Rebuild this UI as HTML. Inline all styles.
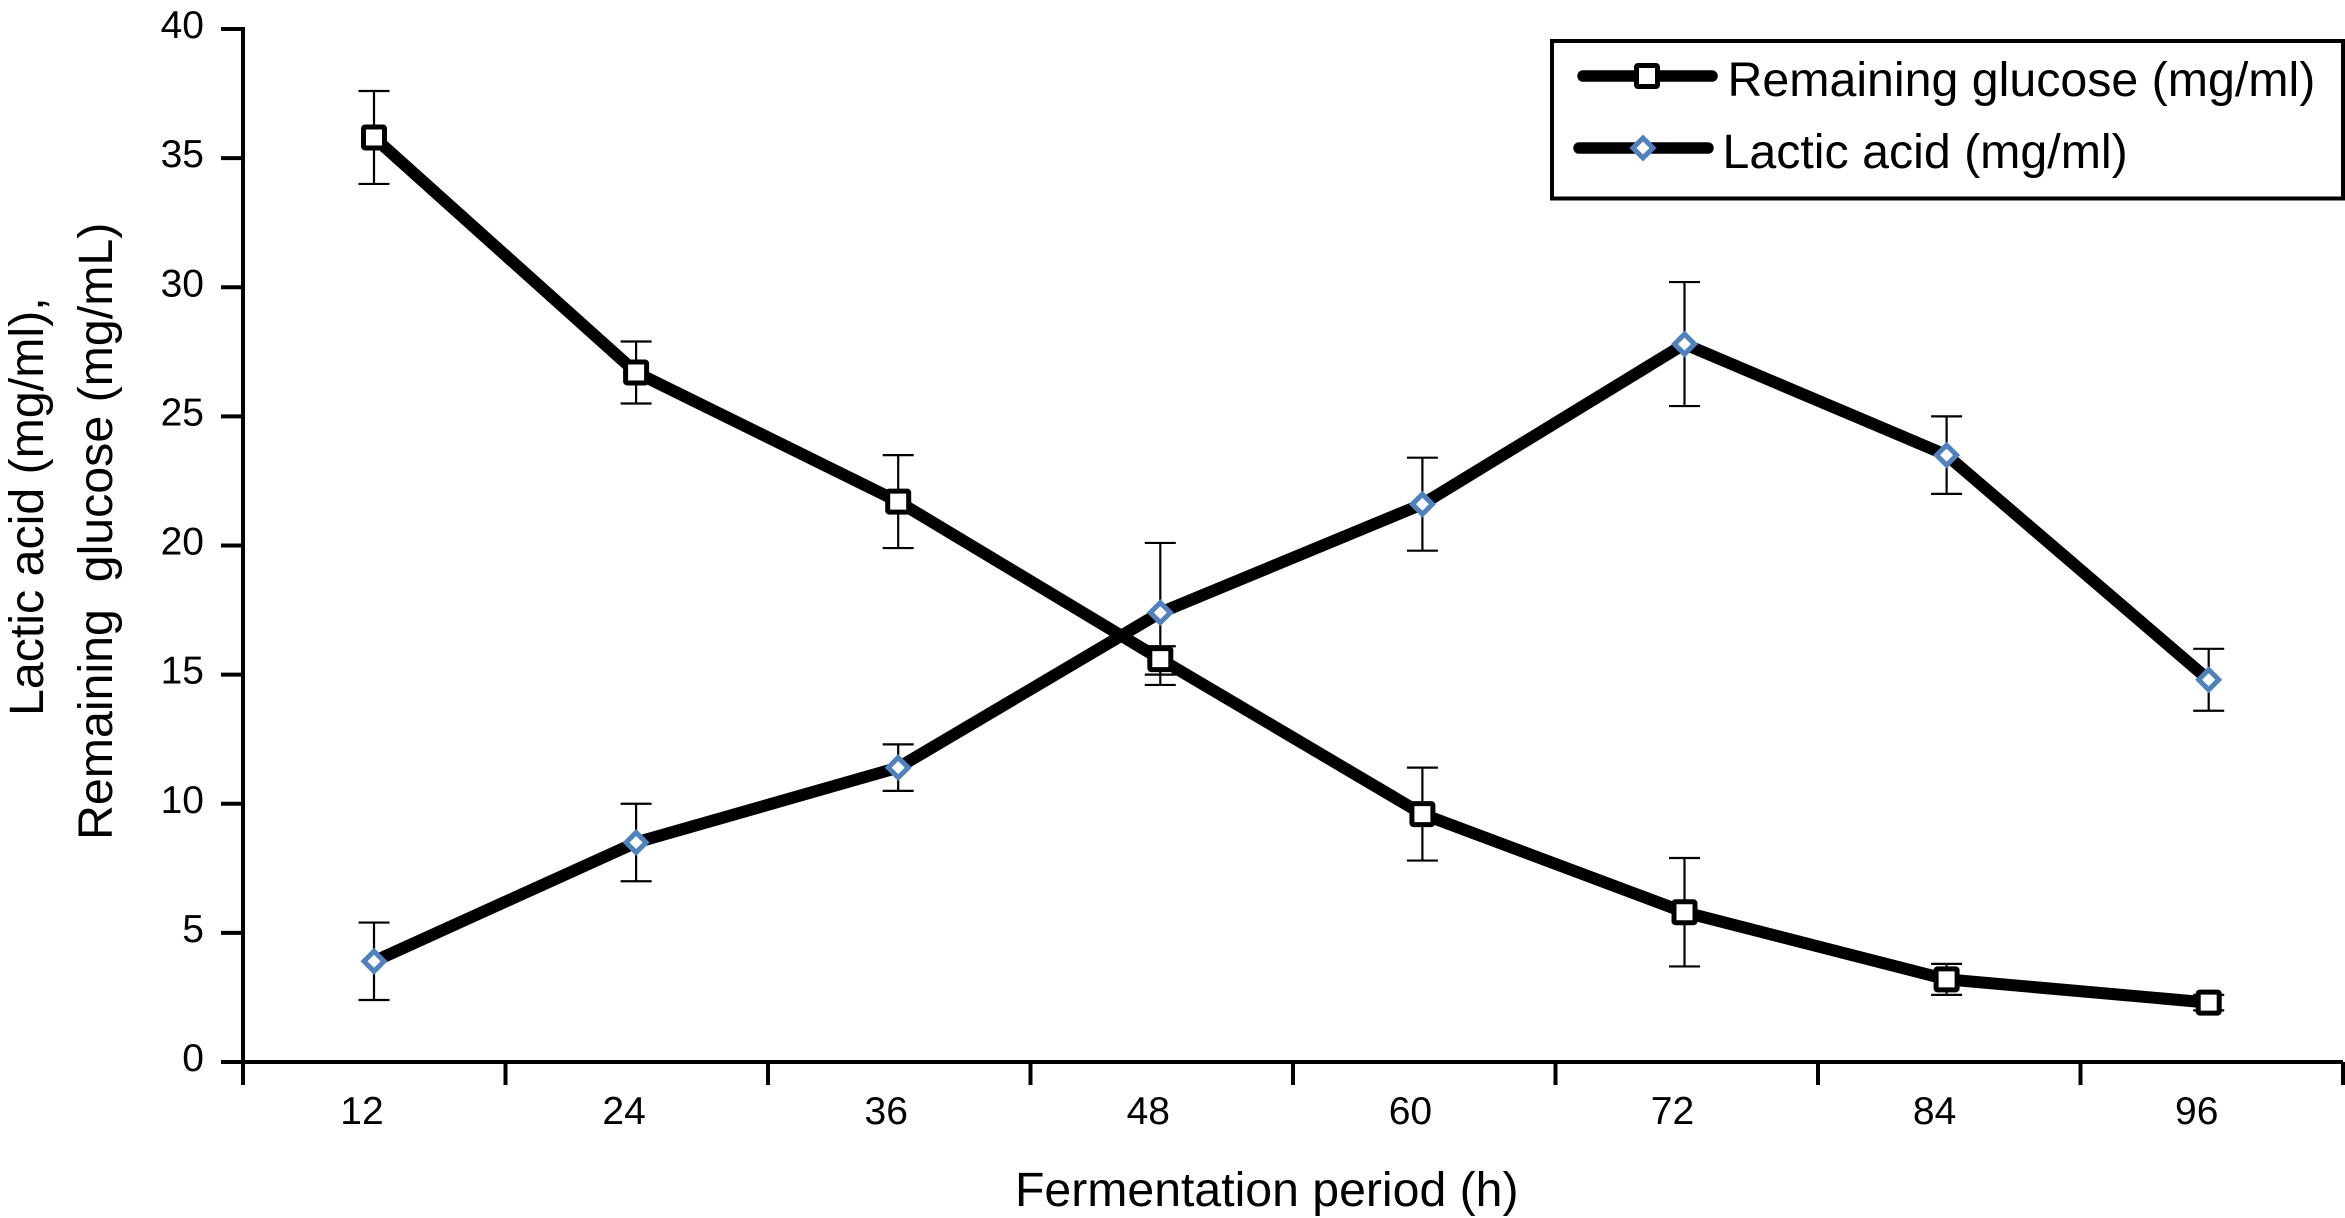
<!DOCTYPE html>
<html lang="en">
<head>
<meta charset="utf-8">
<title>Remaining glucose and lactic acid over fermentation period</title>
<style>
  html, body { margin: 0; padding: 0; background: #fff; width: 2345px; height: 1218px; overflow: hidden; }
  svg { display: block; }
  text { font-family: "Liberation Sans", Arial, sans-serif; fill: #000; white-space: pre; }
</style>
</head>
<body>
<svg id="chart" xmlns="http://www.w3.org/2000/svg" width="2345" height="1218" viewBox="0 0 2345 1218">
  <rect x="0" y="0" width="2345" height="1218" fill="#fff"/>
  <g id="axes"></g>
  <g id="errors"></g>
  <g id="lines"></g>
  <g id="markers"></g>

  <text x="1015" y="1206" font-size="48.2">Fermentation period (h)</text>
  <text transform="translate(43,716) rotate(-90)" font-size="48.3">Lactic acid (mg/ml),</text>
  <text transform="translate(112,840) rotate(-90)" font-size="48.3">Remaining  glucose (mg/mL)</text>

  <g>
    <rect x="1552" y="41" width="791" height="157.5" fill="#fff" stroke="#000" stroke-width="4"/>
    <g>
      <line x1="1583" y1="76" x2="1712" y2="76" stroke="#000" stroke-width="11.5" stroke-linecap="round"/>
      <rect x="1636.5" y="65.5" width="21" height="21" rx="1.5" fill="#fff" stroke="#000" stroke-width="5"/>
      <text x="1727.5" y="96" font-size="48.3">Remaining glucose (mg/ml)</text>
    </g>
    <g>
      <line x1="1579" y1="148" x2="1708" y2="148" stroke="#000" stroke-width="11.5" stroke-linecap="round"/>
      <polygon points="1643,138 1653,148 1643,158 1633,148" fill="#fff" stroke="#4f81bd" stroke-width="5"/>
      <text x="1722.5" y="168" font-size="48.3">Lactic acid (mg/ml)</text>
    </g>
  </g>
</svg>
<script>
const categories = ['12', '24', '36', '48', '60', '72', '84', '96'];
const yTickValues = [0, 5, 10, 15, 20, 25, 30, 35, 40];
const glucoseValues = [35.8, 26.7, 21.7, 15.6, 9.6, 5.8, 3.2, 2.3];
const glucoseHigh = [37.6, 27.9, 23.5, 16.1, 11.4, 7.9, 3.8, 2.6];
const glucoseLow = [34.0, 25.5, 19.9, 15.0, 7.8, 3.7, 2.6, 2.0];
const lacticValues = [3.9, 8.5, 11.4, 17.4, 21.6, 27.8, 23.5, 14.8];
const lacticHigh = [5.4, 10.0, 12.3, 20.1, 23.4, 30.2, 25.0, 16.0];
const lacticLow = [2.4, 7.0, 10.5, 14.6, 19.8, 25.4, 22.0, 13.6];

const NS = 'http://www.w3.org/2000/svg';
const yMax = 40;
const yZero = 1062;
const yTop = 29;
const axisLeft = 243;
const axisRight = 2343;

function yScale(v) { return yZero - (v / yMax) * (yZero - yTop); }
function tickX(i) { return axisLeft + i * (axisRight - axisLeft) / categories.length; }
function pointX(i) { return 374 + i * 262.1; }
function labelX(i) { return 362 + i * 262.1; }

function make(tag, parentId, attrs) {
  const el = document.createElementNS(NS, tag);
  Object.keys(attrs).forEach(function (k) { el.setAttribute(k, attrs[k]); });
  document.getElementById(parentId).appendChild(el);
  return el;
}

function drawAxes() {
  const yAxis = make('line', 'axes', { x1: axisLeft, y1: yTop - 2, x2: axisLeft, y2: yZero + 23, stroke: '#000', 'stroke-width': 4 });
  
  
  const xAxis = make('line', 'axes', { x1: axisLeft - 22, y1: yZero, x2: axisRight, y2: yZero, stroke: '#000', 'stroke-width': 4 });
  
  

  yTickValues.forEach(function (v) {
    const y = yScale(v);
    const tick = make('line', 'axes', { x1: axisLeft - 22, y1: y, x2: axisLeft, y2: y, stroke: '#000', 'stroke-width': 4 });
    
    
    const label = make('text', 'axes', { x: 204, y: y + 9, 'font-size': 39, 'text-anchor': 'end' });
    
    
    label.textContent = String(v);
  });

  for (let i = 0; i <= categories.length; i++) {
    const x = tickX(i);
    const tick = make('line', 'axes', { x1: x, y1: yZero, x2: x, y2: yZero + 23, stroke: '#000', 'stroke-width': 4 });
    
    
  }

  categories.forEach(function (c, i) {
    const label = make('text', 'axes', { x: labelX(i), y: 1124, 'font-size': 39, 'text-anchor': 'middle' });
    
    
    label.textContent = c;
  });
}

function drawErrors(name, high, low) {
  categories.forEach(function (c, i) {
    const x = pointX(i);
    const yh = yScale(high[i]);
    const yl = yScale(low[i]);
    const stem = make('line', 'errors', { x1: x, y1: yh, x2: x, y2: yl, stroke: '#000', 'stroke-width': 2.2 });
    
    
    const capTop = make('line', 'errors', { x1: x - 15.5, y1: yh, x2: x + 15.5, y2: yh, stroke: '#000', 'stroke-width': 2.2 });
    
    
    const capBottom = make('line', 'errors', { x1: x - 15.5, y1: yl, x2: x + 15.5, y2: yl, stroke: '#000', 'stroke-width': 2.2 });
    
    
  });
}

function drawLine(name, values) {
  const pts = values.map(function (v, i) { return pointX(i) + ',' + yScale(v); }).join(' ');
  const line = make('polyline', 'lines', { points: pts, fill: 'none', stroke: '#000', 'stroke-width': 12, 'stroke-linejoin': 'miter' });
  
  
}

function drawSquares(name, values) {
  values.forEach(function (v, i) {
    const x = pointX(i);
    const y = yScale(v);
    const m = make('rect', 'markers', { x: x - 10.5, y: y - 10.5, width: 21, height: 21, rx: 1.5, fill: '#fff', stroke: '#000', 'stroke-width': 5 });
    
    
  });
}

function drawDiamonds(name, values) {
  values.forEach(function (v, i) {
    const x = pointX(i);
    const y = yScale(v);
    const r = 10;
    const pts = [x, y - r, x + r, y, x, y + r, x - r, y].join(' ');
    const m = make('polygon', 'markers', { points: pts, fill: '#fff', stroke: '#4f81bd', 'stroke-width': 5 });
    
    
  });
}

drawAxes();
drawErrors('glucose', glucoseHigh, glucoseLow);
drawErrors('lactic', lacticHigh, lacticLow);
drawLine('glucose', glucoseValues);
drawLine('lactic', lacticValues);
drawSquares('glucose', glucoseValues);
drawDiamonds('lactic', lacticValues);
</script>
</body>
</html>
